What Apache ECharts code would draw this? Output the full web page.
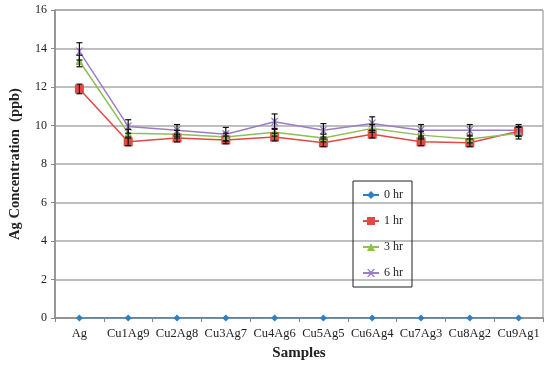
<!DOCTYPE html>
<html><head><meta charset="utf-8">
<script src="https://cdn.jsdelivr.net/npm/echarts@6/dist/echarts.min.js"></script>
<style>html,body{margin:0;padding:0;background:#fff}#c{width:550px;height:367px}</style>
</head><body><div id="c"></div>
<script>
var categories = ['Ag','Cu1Ag9','Cu2Ag8','Cu3Ag7','Cu4Ag6','Cu5Ag5','Cu6Ag4','Cu7Ag3','Cu8Ag2','Cu9Ag1'];
var yTicks = [0,2,4,6,8,10,12,14,16];
var hr0 = [0,0,0,0,0,0,0,0,0,0];
var hr1 = [11.9,9.15,9.35,9.25,9.4,9.1,9.55,9.15,9.1,9.7];
var hr3 = [13.35,9.6,9.55,9.4,9.65,9.35,9.85,9.5,9.3,9.6];
var hr6 = [13.85,9.95,9.75,9.55,10.2,9.75,10.1,9.75,9.75,9.75];
var err1 = [0.25,0.2,0.2,0.2,0.2,0.2,0.2,0.2,0.2,0.25];
var err3 = [0.3,0.2,0.2,0.2,0.2,0.2,0.2,0.2,0.2,0.3];
var err6 = [0.45,0.35,0.3,0.35,0.4,0.35,0.35,0.3,0.3,0.3];

var chart = echarts.init(document.getElementById('c'));
var serif = 'Liberation Serif';
function errSeries(vals, errs) {
  var data = vals.map(function(v,i){ return [i, v - errs[i], v + errs[i]]; });
  return {
    type: 'custom', silent: true, z: 5,
    renderItem: function(params, api) {
      var x = api.value(0);
      var lo = api.coord([x, api.value(1)]);
      var hi = api.coord([x, api.value(2)]);
      var w = 3;
      var st = {stroke: '#111', lineWidth: 1.2};
      return {type: 'group', children: [
        {type:'line', shape:{x1:lo[0],y1:lo[1],x2:hi[0],y2:hi[1]}, style: st},
        {type:'line', shape:{x1:lo[0]-w,y1:lo[1],x2:lo[0]+w,y2:lo[1]}, style: st},
        {type:'line', shape:{x1:hi[0]-w,y1:hi[1],x2:hi[0]+w,y2:hi[1]}, style: st}
      ]};
    },
    data: data
  };
}
var xPath = 'path://M0,0L2,0L5,3L8,0L10,0L6,5L10,10L8,10L5,7L2,10L0,10L4,5Z';
chart.setOption({
  animation: false,
  textStyle: {fontFamily: serif},
  grid: {left: 55, right: 7, top: 10, bottom: 49, show: true, borderColor: '#888', borderWidth: 1},
  legend: {
    orient: 'vertical', left: 353, top: 181,
    borderColor: '#222', borderWidth: 1,
    padding: [8, 9, 8, 9], itemGap: 14, itemWidth: 16, itemHeight: 10,
    textStyle: {fontFamily: serif, fontSize: 12, color: '#222'},
    data: ['0 hr','1 hr','3 hr','6 hr']
  },
  xAxis: {
    type: 'category', data: categories, boundaryGap: true,
    name: 'Samples', nameLocation: 'middle', nameGap: 28,
    nameTextStyle: {fontFamily: serif, fontSize: 15, fontWeight: 'bold', color: '#222'},
    axisLine: {lineStyle: {color: '#888', width: 1.5}},
    axisTick: {show: true, length: 4, lineStyle: {color: '#888'}},
    axisLabel: {fontFamily: serif, fontSize: 12.5, color: '#222', margin: 9, interval: 0}
  },
  yAxis: {
    type: 'value', min: 0, max: 16, interval: 2,
    name: 'Ag Concentration  (ppb)', nameLocation: 'middle', nameGap: 32,
    nameTextStyle: {fontFamily: serif, fontSize: 14.5, fontWeight: 'bold', color: '#222'},
    axisLine: {show: true, lineStyle: {color: '#888', width: 1.5}},
    axisTick: {show: true, length: 4, lineStyle: {color: '#888'}},
    axisLabel: {fontFamily: serif, fontSize: 12, color: '#222', margin: 8,
      formatter: function(v){ return yTicks.indexOf(v) >= 0 ? String(v) : ''; }},
    splitLine: {lineStyle: {color: '#aaa', width: 1.5}}
  },
  series: [
    {name: '0 hr', type: 'line', data: hr0, symbol: 'diamond', symbolSize: 7,
     itemStyle: {color: '#2f7fc1'}, lineStyle: {color: '#2f7fc1', width: 1.2}, z: 3},
    {name: '1 hr', type: 'line', data: hr1, symbol: 'rect', symbolSize: 9,
     itemStyle: {color: '#e04a44'}, lineStyle: {color: '#e04a44', width: 1.5}, z: 3},
    {name: '3 hr', type: 'line', data: hr3, symbol: 'triangle', symbolSize: 8,
     itemStyle: {color: '#8cc152'}, lineStyle: {color: '#8cc152', width: 1.5}, z: 3},
    {name: '6 hr', type: 'line', data: hr6, symbol: xPath, symbolSize: 8,
     itemStyle: {color: '#9a7fc4'}, lineStyle: {color: '#9a7fc4', width: 1.5}, z: 3},
    errSeries(hr1, err1), errSeries(hr3, err3), errSeries(hr6, err6)
  ]
});
</script></body></html>
